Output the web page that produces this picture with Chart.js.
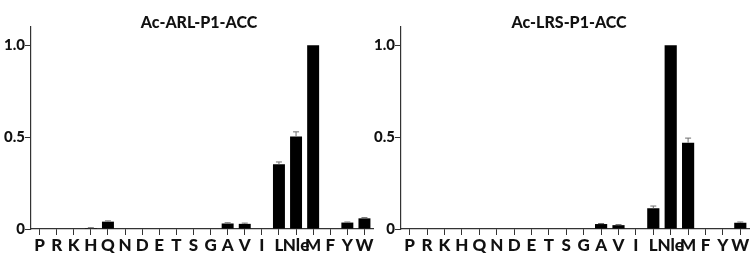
<!DOCTYPE html>
<html>
<head>
<meta charset="utf-8">
<script src="https://cdn.jsdelivr.net/npm/chart.js@4"></script>
<style>
  body { margin: 0; background: #fff; }
  #wrap { position: relative; width: 754px; height: 256px; overflow: hidden; }
  .panel { position: absolute; top: 0; height: 256px; }
  .titulo { position: absolute; width: 220px; text-align: center; font: 900 16px Lato, sans-serif; line-height: 16px; color: #111; }
</style>
</head>
<body>
<div id="wrap">
  <div class="panel" style="left:0;width:377px"><canvas id="chartARL"></canvas></div>
  <div class="panel" style="left:372px;width:382px"><canvas id="chartLRS"></canvas></div>
  <div class="titulo" style="left:89px;top:14px">Ac-ARL-P1-ACC</div>
  <div class="titulo" style="left:459px;top:14px">Ac-LRS-P1-ACC</div>
</div>
<script>
// Residuos P1
const residues = ['P','R','K','H','Q','N','D','E','T','S','G','A','V','I','L','Nle','M','F','Y','W'];

// Ac-ARL-P1-ACC
const arlValues = [0, 0, 0, 0.005, 0.04, 0, 0, 0, 0, 0, 0, 0.03, 0.028, 0, 0.353, 0.504, 1.0, 0, 0.035, 0.058];
const arlErrors = [0, 0, 0, 0.002, 0.004, 0, 0, 0, 0, 0, 0, 0.004, 0.004, 0, 0.012, 0.025, 0, 0, 0.003, 0.004];

// Ac-LRS-P1-ACC
const lrsValues = [0, 0, 0, 0, 0, 0, 0, 0, 0, 0, 0, 0.027, 0.021, 0, 0.113, 1.0, 0.47, 0, 0, 0.034];
const lrsErrors = [0, 0, 0, 0, 0, 0, 0, 0, 0, 0, 0, 0.003, 0.003, 0, 0.012, 0, 0.025, 0, 0, 0.004];

const yTicks = [0, 0.5, 1.0];

// barras de error (solo hacia arriba)
const errorBars = {
    id: 'errorBars',
    afterDatasetsDraw(chart) {
        const ctx = chart.ctx;
        const yScale = chart.scales.y;
        const meta = chart.getDatasetMeta(0);
        const ds = chart.data.datasets[0];
        ctx.save();
        ctx.strokeStyle = '#6e6e6e';
        ctx.lineWidth = 1;
        meta.data.forEach((bar, i) => {
            const err = ds.errors[i];
            if (!err) return;
            const yBase = yScale.getPixelForValue(ds.data[i]);
            const yTop = yScale.getPixelForValue(ds.data[i] + err);
            ctx.beginPath();
            ctx.moveTo(bar.x, yBase);
            ctx.lineTo(bar.x, yTop);
            ctx.moveTo(bar.x - 3, yTop);
            ctx.lineTo(bar.x + 3, yTop);
            ctx.stroke();
        });
        ctx.restore();
    }
};

function makeChart(id, values, errors, yWidth, padRight) {
    const ctx = document.getElementById(id).getContext('2d');
    return new Chart(ctx, {
        type: 'bar',
        data: {
            labels: residues,
            datasets: [{
                data: values,
                errors: errors,
                backgroundColor: '#000',
                borderWidth: 0,
                categoryPercentage: 1,
                barPercentage: 0.7
            }]
        },
        options: {
            responsive: true,
            maintainAspectRatio: false,
            animation: false,
            layout: { padding: { top: 27, right: padRight, left: 0, bottom: 0 } },
            plugins: { legend: { display: false }, tooltip: { enabled: false } },
            scales: {
                x: {
                    offset: true,
                    grid: { offset: false, drawOnChartArea: false, drawTicks: true, tickLength: 6, color: '#333', lineWidth: 1 },
                    border: { display: true, color: '#333', width: 1.2 },
                    ticks: {
                        autoSkip: false, maxRotation: 0, minRotation: 0, padding: 0,
                        color: '#111', font: { family: 'Lato', weight: '900', size: 17 }
                    },
                    afterFit: s => { s.height = 27; }
                },
                y: {
                    min: 0,
                    max: 1.1,
                    afterBuildTicks: s => { s.ticks = yTicks.map(v => ({ value: v })); },
                    grid: { drawOnChartArea: false, drawTicks: true, tickLength: 6, color: '#333', lineWidth: 1 },
                    border: { display: true, color: '#333', width: 1.2 },
                    ticks: {
                        padding: 0,
                        color: '#111',
                        font: { family: 'Lato', weight: '900', size: 15 },
                        callback: v => (v === 0 ? '0' : v.toFixed(1))
                    },
                    afterFit: s => { s.width = yWidth; }
                }
            }
        },
        plugins: [errorBars]
    });
}

document.addEventListener('DOMContentLoaded', function() {
    makeChart('chartARL', arlValues, arlErrors, 31, 4);
    makeChart('chartLRS', lrsValues, lrsErrors, 29, 5);
});
</script>
</body>
</html>
